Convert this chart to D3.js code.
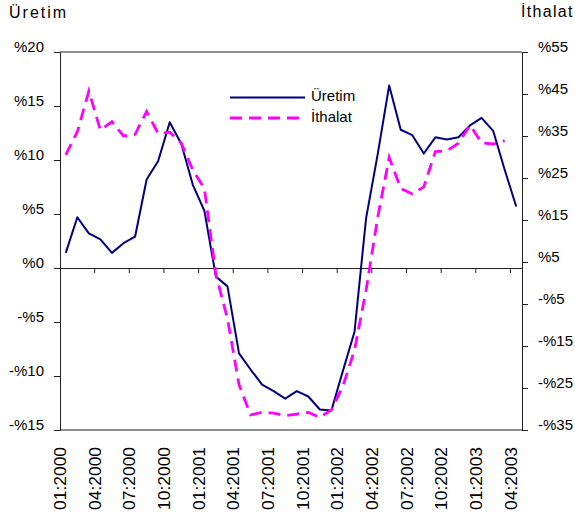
<!DOCTYPE html>
<html>
<head>
<meta charset="utf-8">
<script src="https://cdn.jsdelivr.net/npm/d3@7/dist/d3.min.js"></script>
<style>
  html, body { margin: 0; padding: 0; background: #fff; }
  svg { display: block; }
  text { font-family: "Liberation Sans", Arial, sans-serif; fill: #000; }
</style>
</head>
<body>
<svg id="chart" width="575" height="513"></svg>
<script>
const months = ["01:2000","02:2000","03:2000","04:2000","05:2000","06:2000","07:2000","08:2000","09:2000","10:2000","11:2000","12:2000",
  "01:2001","02:2001","03:2001","04:2001","05:2001","06:2001","07:2001","08:2001","09:2001","10:2001","11:2001","12:2001",
  "01:2002","02:2002","03:2002","04:2002","05:2002","06:2002","07:2002","08:2002","09:2002","10:2002","11:2002","12:2002",
  "01:2003","02:2003","03:2003","04:2003"];
const tickLabels = ["01:2000","04:2000","07:2000","10:2000","01:2001","04:2001","07:2001","10:2001","01:2002","04:2002","07:2002","10:2002","01:2003","04:2003"];
const uretim = [1.4, 4.7, 3.2, 2.65, 1.4, 2.3, 2.9, 8.2, 9.9, 13.5, 11.5, 7.7,
  5.3, -0.8, -1.7, -7.9, -9.4, -10.8, -11.4, -12.1, -11.4, -11.9, -13.1, -13.2,
  -9.5, -5.9, 4.6, 10.5, 16.9, 12.8, 12.3, 10.6, 12.1, 11.9, 12.1, 13.2,
  13.9, 12.7, 9.1, 5.7];
const ithalat = [30.5, 36, 45.7, 36.4, 38.4, 35, 35.4, 40.8, 35.6, 35.9, 33.3, 26.9,
  22.5, 2, -8.5, -24.2, -31.4, -30.8, -31.0, -31.6, -31.2, -30.8, -32.0, -30.2,
  -24.5, -16, -1.7, 15.5, 29.9, 22.5, 21.2, 22.9, 31.3, 31.5, 33.3, 37.6,
  33.4, 33.1, 33.9, null];
const leftTicks = [20, 15, 10, 5, 0, -5, -10, -15];
const rightTicks = [55, 45, 35, 25, 15, 5, -5, -15, -25, -35];
const seriesNames = ["Üretim", "İthalat"];
const colors = ["#000080", "#FF00FF"];

const svg = d3.select("#chart");
const L = 60, R = 522, T = 52, B = 430;
const axisColor = "#222";

const x = d3.scaleBand().domain(months).range([L, R]).paddingInner(0).paddingOuter(0);
const yL = d3.scaleLinear().domain([-15, 20]).range([B, T]);
const yR = d3.scaleLinear().domain([-35, 55]).range([B, T]);
const fmt = d => (d < 0 ? "-%" : "%") + Math.abs(d);

// frame top & bottom
svg.append("line").attr("x1", L).attr("x2", R).attr("y1", T).attr("y2", T).attr("stroke", axisColor);
svg.append("line").attr("x1", L).attr("x2", R).attr("y1", B).attr("y2", B).attr("stroke", axisColor);

// left axis
const gl = svg.append("g").attr("transform", `translate(${L},0)`)
  .call(d3.axisLeft(yL).tickValues(leftTicks).tickSize(6).tickPadding(10).tickFormat(fmt));
gl.select(".domain").attr("stroke", axisColor);
gl.selectAll(".tick line").attr("stroke", axisColor);
gl.selectAll(".tick text").attr("font-size", 15).attr("font-family", '"Liberation Sans", Arial, sans-serif').attr("dy", -1).attr("fill", "#111");

// right axis
const gr = svg.append("g").attr("transform", `translate(${R},0)`)
  .call(d3.axisRight(yR).tickValues(rightTicks).tickSize(6).tickPadding(10).tickFormat(fmt));
gr.select(".domain").attr("stroke", axisColor);
gr.selectAll(".tick line").attr("stroke", axisColor);
gr.selectAll(".tick text").attr("font-size", 15).attr("font-family", '"Liberation Sans", Arial, sans-serif').attr("dy", -1).attr("fill", "#111");

// x axis at zero
const y0 = yL(0);
const gx = svg.append("g").attr("transform", `translate(0,${y0})`)
  .call(d3.axisBottom(x).tickValues(tickLabels.slice(1)).tickSize(5).tickFormat(""))
  .call(g => g.selectAll(".tick").attr("transform", d => `translate(${x(d)},0)`));
gx.select(".domain").attr("d", `M${L},0.5H${R}`).attr("stroke", axisColor);
gx.selectAll(".tick line").attr("stroke", axisColor);

// x tick labels (rotated, at category boundaries)
svg.append("g").selectAll("text").data(tickLabels).join("text")
  .attr("transform", d => `translate(${x(d)},447) rotate(-90)`)
  .attr("text-anchor", "end")
  .attr("dy", "0.35em")
  .attr("font-size", 17.4)
  .attr("fill", "#111")
  .text(d => d);

// lines
const lineL = d3.line().defined(d => d != null).x((d, i) => x(months[i]) + x.bandwidth() / 2).y(d => yL(d));
const lineR = d3.line().defined(d => d != null).x((d, i) => x(months[i]) + x.bandwidth() / 2).y(d => yR(d));

svg.append("path").datum(uretim).attr("d", lineL)
  .attr("fill", "none").attr("stroke", colors[0]).attr("stroke-width", 2).attr("stroke-linejoin", "round");
svg.append("path").datum(ithalat).attr("d", lineR)
  .attr("fill", "none").attr("stroke", colors[1]).attr("stroke-width", 2.8).attr("stroke-dasharray", "12,7");

// legend
const lg = svg.append("g");
lg.append("line").attr("x1", 230).attr("x2", 305).attr("y1", 97.5).attr("y2", 97.5)
  .attr("stroke", colors[0]).attr("stroke-width", 2);
lg.append("line").attr("x1", 230).attr("x2", 305).attr("y1", 118).attr("y2", 118)
  .attr("stroke", colors[1]).attr("stroke-width", 3).attr("stroke-dasharray", "12,7");
lg.append("text").attr("x", 311).attr("y", 101).attr("font-size", 15).attr("fill", "#111").text(seriesNames[0]);
lg.append("text").attr("x", 311).attr("y", 122).attr("font-size", 15).attr("fill", "#111").text(seriesNames[1]);

// axis titles
svg.append("text").attr("x", 9).attr("y", 18).attr("font-size", 16).attr("letter-spacing", 2).attr("fill", "#111").text(seriesNames[0]);
svg.append("text").attr("x", 521).attr("y", 17).attr("font-size", 16).attr("letter-spacing", 1.3).attr("fill", "#111").text(seriesNames[1]);
</script>
</body>
</html>
